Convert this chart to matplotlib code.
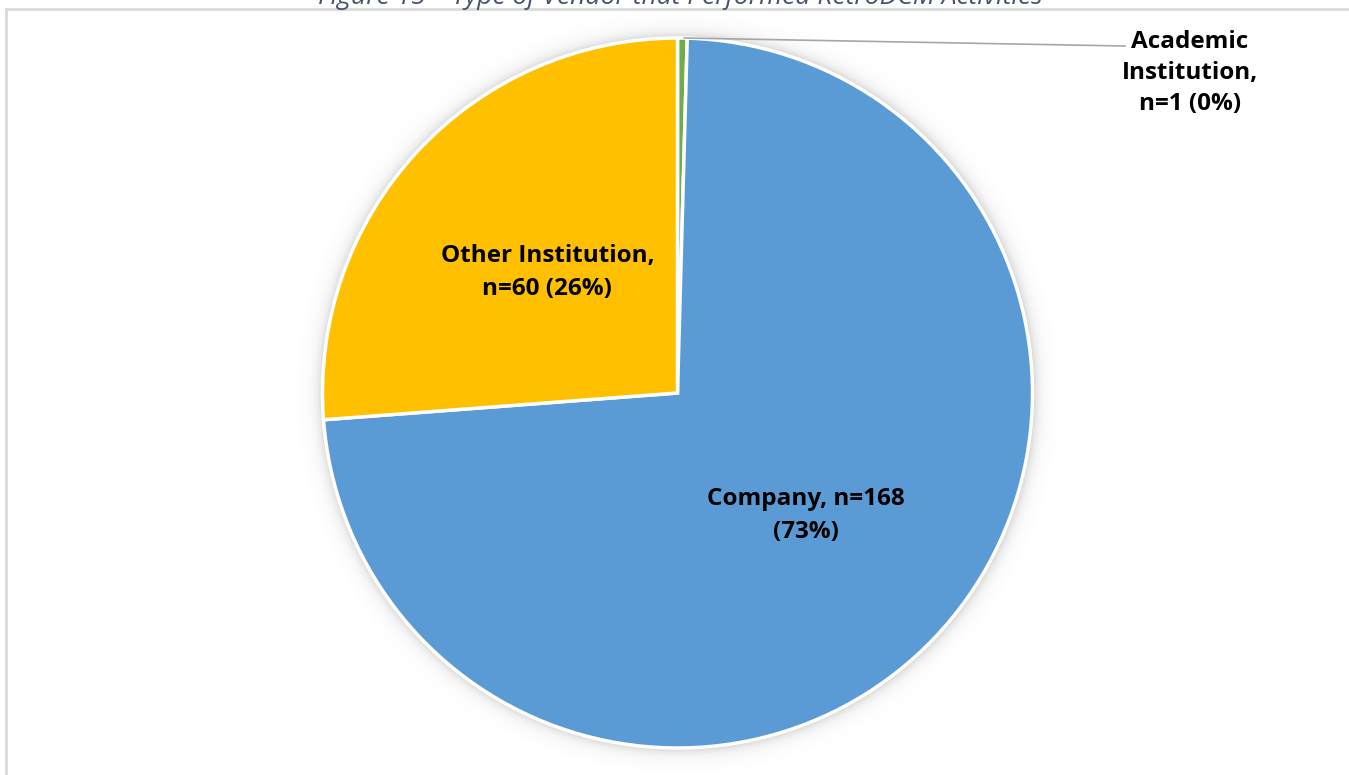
import matplotlib.pyplot as plt
import numpy as np

# vendor types and counts
categories = ['Academic Institution', 'Company', 'Other Institution']
counts = [1, 168, 60]
colors = ['#70AD47', '#5B9BD5', '#FFC000']
title = 'Figure 15 \u2013 Type of Vendor that Performed RetroDCM Activities'

W, H = 1349, 775
fig = plt.figure(figsize=(W / 100, H / 100), dpi=100)
ax = fig.add_axes([0, 0, 1, 1])
ax.set_xlim(0, W)
ax.set_ylim(0, H)
ax.set_aspect('equal')
ax.axis('off')

cx, cy, r = 677.5, 382, 355

# soft shadow under the pie
xs = np.arange(cx - r - 40, cx + r + 40)
ys = np.arange(cy - r - 40, cy + r + 40)
XX, YY = np.meshgrid(xs, ys)
d = np.hypot(XX - cx, YY - cy) - r
alpha = np.clip(np.exp(-np.maximum(d, 0) / 6.0) * 0.35, 0, 0.35)
alpha[d < 0] = 0.35
shadow = np.zeros(XX.shape + (4,))
shadow[..., :3] = 0.45
shadow[..., 3] = alpha
ax.imshow(shadow, extent=(xs[0], xs[-1], ys[0], ys[-1]), origin='lower',
          zorder=0, interpolation='bilinear')

wedges, _ = ax.pie(counts, colors=colors, startangle=90, counterclock=False,
                   center=(cx, cy), radius=r,
                   wedgeprops=dict(edgecolor='white', linewidth=2.5))
for w in wedges:
    w.set_zorder(2)
ax.set_xlim(0, W)
ax.set_ylim(0, H)

total = sum(counts)
font = dict(family='Open Sans', weight='bold', fontsize=17.5, color='black')
for w, name, n in zip(wedges, categories, counts):
    pct = round(100 * n / total)
    mid = np.deg2rad((w.theta1 + w.theta2) / 2)
    if name == 'Company':
        txt = f'Company, n={n}\n({pct}%)'
    elif name == 'Other Institution':
        txt = f'Other Institution,\nn={n} ({pct}%)'
    else:
        # small slice: label outside with a leader line
        x0, y0 = cx + r * np.cos(mid), cy + r * np.sin(mid)
        lx, ly = 1190, 702
        ax.plot([x0 + 2, 1125], [y0, 729], color='#A6A6A6', lw=1.2, zorder=3)
        ax.text(lx, ly, f'Academic\nInstitution,\nn={n} ({pct}%)', ha='center',
                va='center', linespacing=1.4, **font)
        continue
    tx, ty = cx + 0.5 * r * np.cos(mid), cy + 0.5 * r * np.sin(mid)
    ax.text(tx, ty, txt, ha='center', va='center', linespacing=1.5, **font)

# chart area border
ax.plot([5.5, 5.5], [0, H - 9], color='#D9D9D9', lw=2, zorder=1)
ax.plot([5.5, W], [H - 9, H - 9], color='#D9D9D9', lw=2, zorder=1)

ax.text(680, H + 3, title, ha='center', va='center', fontsize=19,
        style='italic', color='#44546A', family='Open Sans')

fig.savefig('out.png', dpi=100)
